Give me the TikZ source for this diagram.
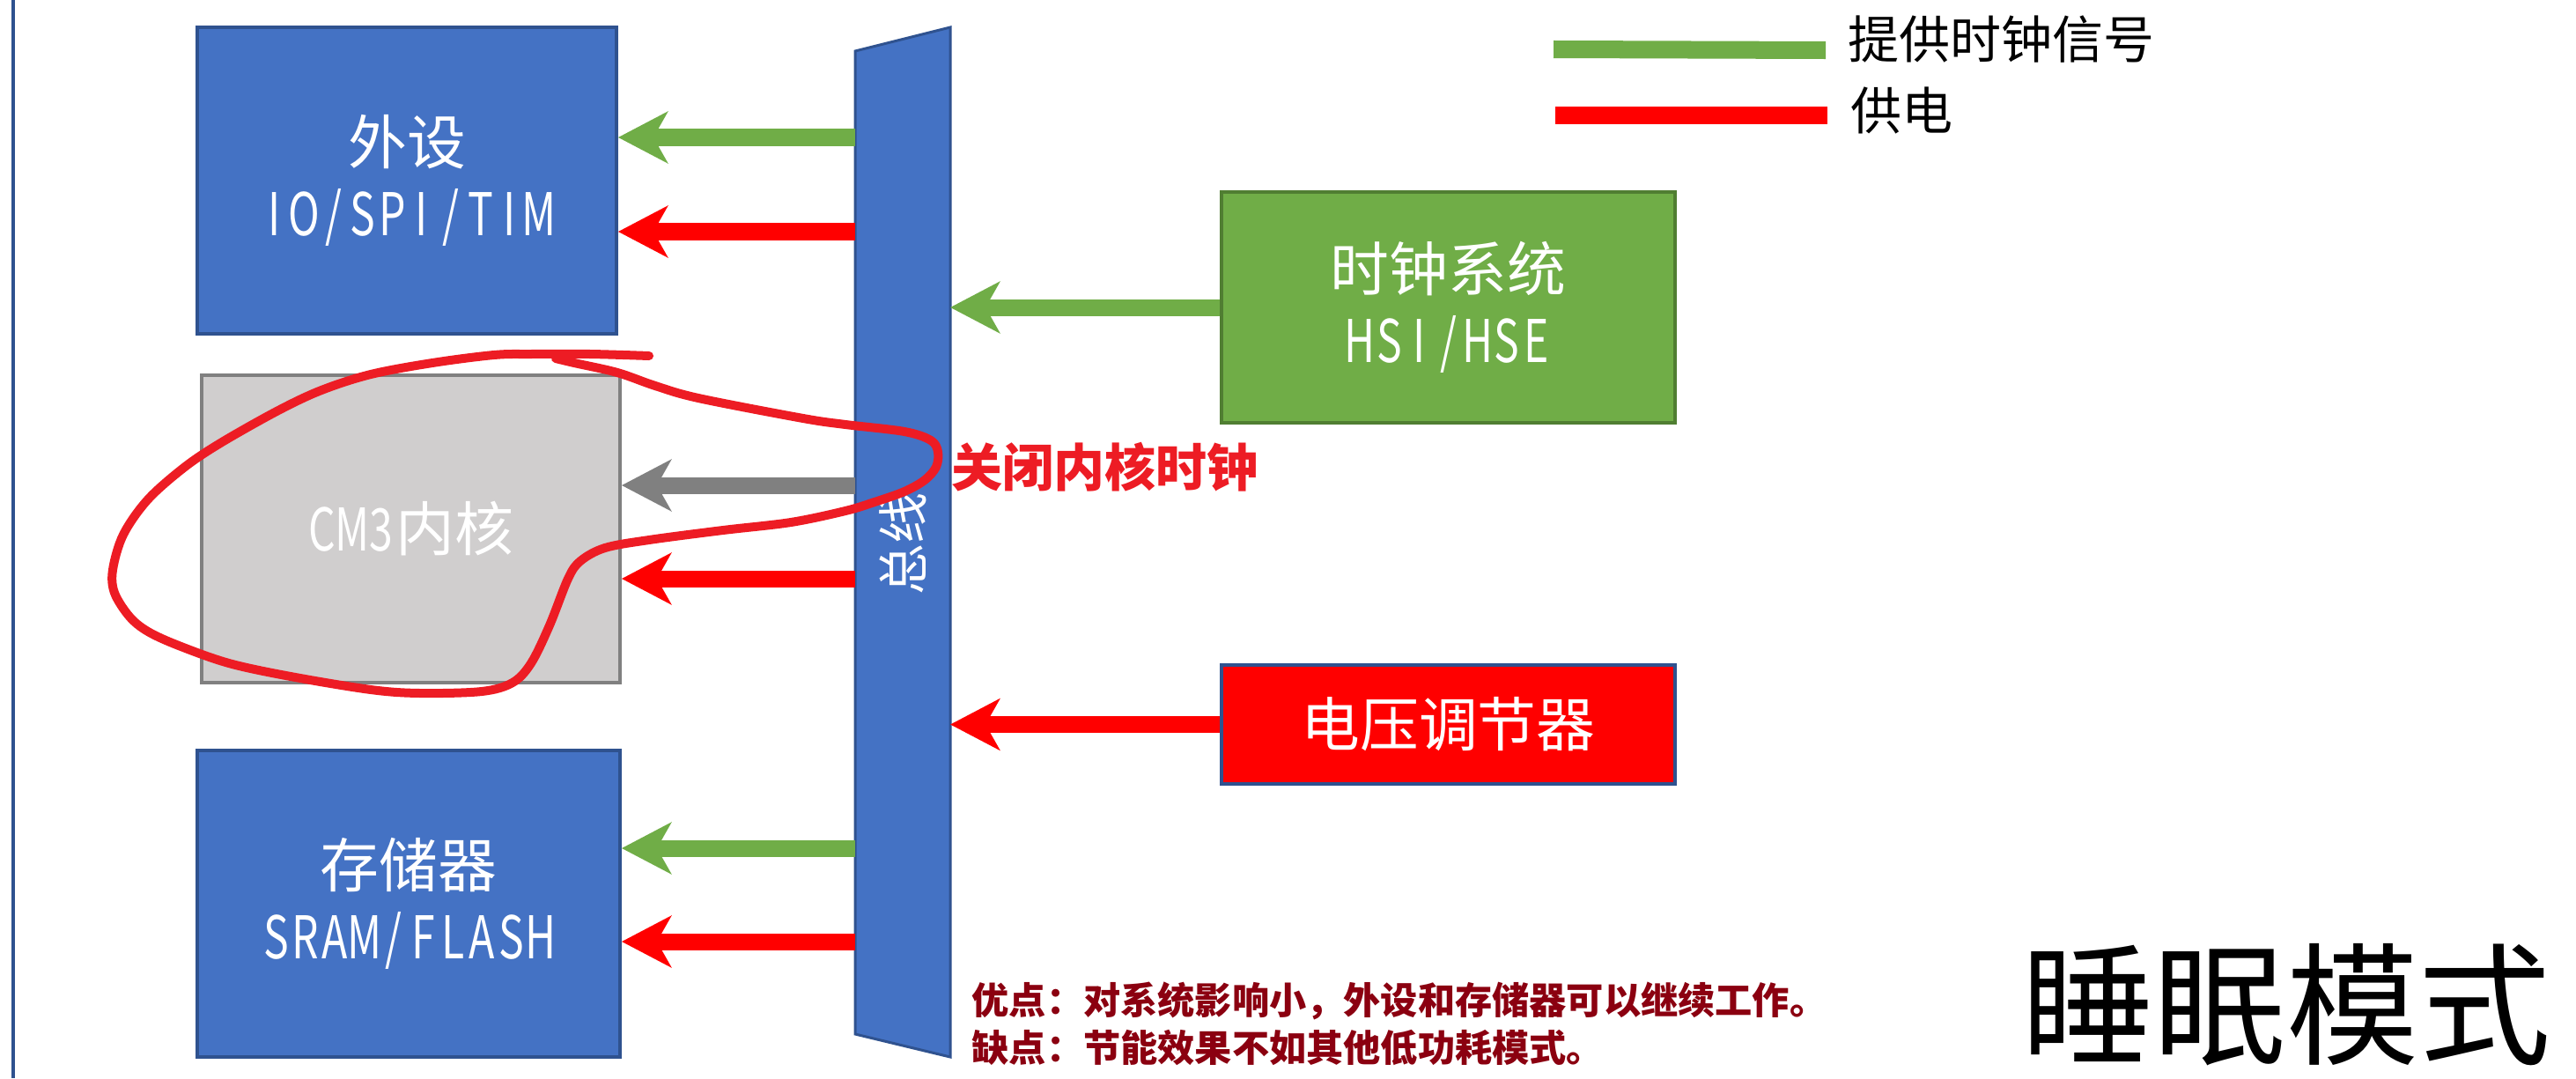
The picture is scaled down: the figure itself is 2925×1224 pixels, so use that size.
\documentclass[tikz,border=0pt]{standalone}
\usepackage{fontspec}
\setmainfont{Noto Sans CJK SC}
\newfontfamily\narrowlatin[FakeStretch=0.72]{Noto Sans CJK SC}
\usetikzlibrary{arrows.meta}
\definecolor{boxblue}{HTML}{4472C4}
\definecolor{boxborder}{HTML}{2F528F}
\definecolor{arrgreen}{HTML}{70AD47}
\definecolor{greenborder}{HTML}{507E32}
\definecolor{coregray}{HTML}{D0CECE}
\definecolor{coreborder}{HTML}{808080}
\definecolor{arrgray}{HTML}{808080}
\definecolor{arrred}{HTML}{FF0000}
\definecolor{inkred}{HTML}{ED1C24}
\definecolor{notered}{RGB}{139,0,16}
\def\monostr#1{{\narrowlatin\monoloop#1\relax}}
\def\monoloop#1{\ifx#1\relax\else\makebox[0.5em][c]{#1}\expandafter\monoloop\fi}
\tikzset{
  module/.style={rectangle, draw=boxborder, line width=0.035cm, fill=boxblue, text=white,
    font=\fontsize{19pt}{23pt}\selectfont, align=center, inner sep=0pt},
  corebox/.style={module, draw=coreborder, fill=coregray},
  clockbox/.style={module, draw=greenborder, fill=arrgreen},
  vregbox/.style={module, fill=arrred},
  bigarrow/.style={line width=0.19cm, -{Stealth[length=0.56cm, width=0.58cm, inset=0.16cm]}},
  legendtext/.style={anchor=west, inner sep=0pt, font=\fontsize{16.5pt}{19pt}\selectfont},
  notetext/.style={anchor=west, inner sep=0pt, text=notered, font=\fontsize{12pt}{14pt}\selectfont\bfseries}
}
\begin{document}
\begin{tikzpicture}[x=0.01cm, y=-0.01cm]
\useasboundingbox (0,0) rectangle (2925,1224);
% left frame line
\coordinate (ftop) at (15,0);
\coordinate (fbot) at (15,1224);
\draw[boxborder, line width=0.03cm] (ftop) -- (fbot);

% modules
\node[module, minimum width=4.76cm, minimum height=3.48cm] (per) at (462,205) {外设\\\monostr{IO/SPI/TIM}};
\node[corebox, minimum width=4.75cm, minimum height=3.49cm] (core) at (466.5,600.5) {\monostr{CM3}内核};
\node[module, minimum width=4.8cm, minimum height=3.48cm] (mem) at (464,1026) {存储器\\\monostr{SRAM/FLASH}};
\node[clockbox, minimum width=5.15cm, minimum height=2.62cm] (clk) at (1644.5,349) {时钟系统\\\monostr{HSI/HSE}};
\node[vregbox, minimum width=5.15cm, minimum height=1.35cm] (vreg) at (1644.5,822.5) {电压调节器};

% bus
\fill[boxblue, draw=boxborder, line width=0.03cm] (971,58) -- (1079,31) -- (1079,1200) -- (971,1174) -- cycle;
\node[rotate=90, text=white, inner sep=0pt, font=\fontsize{16.5pt}{19pt}\selectfont] (buslabel) at (1025,617) {总线};

% bus attachment points
\coordinate (bl1) at (971,156);
\coordinate (bl2) at (971,263);
\coordinate (bl3) at (971,551);
\coordinate (bl4) at (971,657);
\coordinate (bl5) at (971,963);
\coordinate (bl6) at (971,1069);
\coordinate (br1) at (1079,349);
\coordinate (br2) at (1079,822.5);

% arrows
\draw[bigarrow, arrgreen] (bl1) -- (per.east |- bl1);
\draw[bigarrow, arrred] (bl2) -- (per.east |- bl2);
\draw[bigarrow, arrgray] (bl3) -- (core.east |- bl3);
\draw[bigarrow, arrred] (bl4) -- (core.east |- bl4);
\draw[bigarrow, arrgreen] (bl5) -- (mem.east |- bl5);
\draw[bigarrow, arrred] (bl6) -- (mem.east |- bl6);
\draw[bigarrow, arrgreen] (clk.west) -- (br1);
\draw[bigarrow, arrred] (vreg.west) -- (br2);

% legend
\coordinate (lg1) at (1764,56);
\coordinate (lg2) at (2073,57);
\coordinate (lr1) at (1766,131);
\coordinate (lr2) at (2075,131);
\draw[arrgreen, line width=0.2cm] (lg1) -- (lg2);
\draw[arrred, line width=0.19cm] (lr1) -- (lr2);
\node[legendtext] (lgt) at (2098,45) {提供时钟信号};
\node[legendtext] (lrt) at (2101,126) {供电};

% annotation
\node[anchor=west, inner sep=0pt, text=inkred, font=\fontsize{16.5pt}{19pt}\selectfont\bfseries] (off) at (1080,530) {关闭内核时钟};

% notes
\node[notetext] (pro) at (1103,1136) {优点：对系统影响小，外设和存储器可以继续工作。};
\node[notetext] (con) at (1103,1189) {缺点：节能效果不如其他低功耗模式。};

% title
\node[inner sep=0pt, font=\fontsize{42.7pt}{48pt}\selectfont] (title) at (2596,1141) {睡眠模式};

% hand-drawn loop
\draw[inkred, line width=0.1cm, line cap=round, line join=round] plot[smooth, tension=0.55] coordinates {
(737,404) (670,402) (603,402) (561,403) (491,412) (421,425) (365,443) (316,466) (252,502) (210,530)
(168,567) (140,607) (128,647) (130,673) (147,700) (168,717) (203,733) (260,753) (330,768) (421,783)
(477,787) (547,785) (582,775) (603,753) (624,710) (645,657) (659,637) (687,622) (737,613) (821,602)
(898,593) (960,580) (993,570) (1027,558) (1050,545) (1063,530) (1065,513) (1057,500) (1027,490) (960,482)
(912,475) (793,452) (744,438) (701,423) (652,412) (631,407)};
\end{tikzpicture}
\end{document}
